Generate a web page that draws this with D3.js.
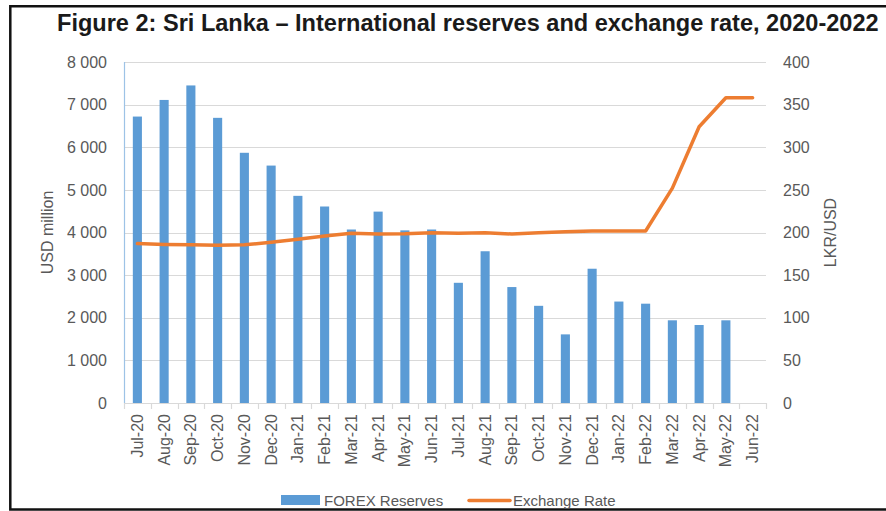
<!DOCTYPE html>
<html>
<head>
<meta charset="utf-8">
<script src="https://cdn.jsdelivr.net/npm/d3@7"></script>
<style>
  html, body { margin: 0; padding: 0; background: #ffffff; }
  svg { display: block; }
</style>
</head>
<body>
<svg id="chart" width="886" height="511"></svg>
<script>
// Monthly categories, Jul-2020 to Jun-2022
const months = ["Jul-20","Aug-20","Sep-20","Oct-20","Nov-20","Dec-20",
                "Jan-21","Feb-21","Mar-21","Apr-21","May-21","Jun-21",
                "Jul-21","Aug-21","Sep-21","Oct-21","Nov-21","Dec-21",
                "Jan-22","Feb-22","Mar-22","Apr-22","May-22","Jun-22"];

// Gross official reserves, USD million (no figure for Jun-22)
const forexReserves = [6720, 7110, 7450, 6690, 5870, 5570,
                       4860, 4610, 4070, 4490, 4050, 4070,
                       2820, 3560, 2720, 2280, 1610, 3150,
                       2380, 2330, 1940, 1830, 1940, null];

// Exchange rate, LKR per USD
const exchangeRate = [187, 186, 185.5, 185, 185.5, 188.5,
                      192, 196, 199, 198.2, 198.6, 199.8,
                      199, 199.8, 198.2, 199.8, 201, 201.8,
                      201.8, 201.8, 252, 324, 358, 358];

const leftTicks = [0, 1000, 2000, 3000, 4000, 5000, 6000, 7000, 8000];
const rightTicks = [0, 50, 100, 150, 200, 250, 300, 350, 400];

const titleText = "Figure 2: Sri Lanka \u2013 International reserves and exchange rate, 2020-2022";
const leftAxisTitle = "USD million";
const rightAxisTitle = "LKR/USD";
const legendLabels = ["FOREX Reserves", "Exchange Rate"];

const svg = d3.select("#chart");
const plot = { left: 124, right: 766, top: 62, bottom: 403 };
const barColor = "#5B9BD5";
const lineColor = "#ED7D31";
const gridColor = "#D9D9D9";
const textColor = "#595959";
const font = "'Liberation Sans', Arial, sans-serif";

const spaced = d3.formatLocale({ decimal: ".", thousands: " ", grouping: [3], currency: ["", ""] }).format(",");

const x = d3.scaleBand().domain(months)
  .range([plot.left, plot.right])
  .paddingInner(0.66).paddingOuter(0.33);
const yLeft = d3.scaleLinear().domain([0, 8000]).range([plot.bottom, plot.top]);
const yRight = d3.scaleLinear().domain([0, 400]).range([plot.bottom, plot.top]);

// Frame around the figure
svg.append("path")
  .attr("d", "M886,6.2H10.3V509.5H886")
  .attr("fill", "none").attr("stroke", "#111").attr("stroke-width", 2.5);

// Title, condensed horizontally to fit the frame width
const title = svg.append("text")
  .attr("font-family", "'Liberation Sans Narrow', 'Liberation Sans', Arial, sans-serif")
  .attr("font-weight", "bold").attr("font-size", 24)
  .attr("fill", "#1a1a1a")
  .text(titleText);
const titleWidth = 822;
const natural = title.node().getComputedTextLength();
title.attr("transform", `translate(57,30.5) scale(${titleWidth / natural},1)`);

// Horizontal gridlines
svg.append("g").selectAll("line")
  .data(leftTicks.filter(d => d > 0))
  .join("line")
  .attr("x1", plot.left).attr("x2", plot.right)
  .attr("y1", d => Math.round(yLeft(d)) + 0.5).attr("y2", d => Math.round(yLeft(d)) + 0.5)
  .attr("stroke", gridColor).attr("stroke-width", 1.2);

// Left axis (tick labels only, line drawn separately)
const leftAxis = svg.append("g")
  .attr("transform", `translate(${plot.left - 17},0)`)
  .call(d3.axisLeft(yLeft).tickValues(leftTicks).tickFormat(spaced).tickSize(0).tickPadding(0));
leftAxis.select(".domain").remove();
leftAxis.selectAll("text")
  .attr("font-family", font).attr("font-size", 16).attr("fill", textColor);

// Right axis
const rightAxis = svg.append("g")
  .attr("transform", `translate(${plot.right + 17},0)`)
  .call(d3.axisRight(yRight).tickValues(rightTicks).tickSize(0).tickPadding(0));
rightAxis.select(".domain").remove();
rightAxis.selectAll("text")
  .attr("font-family", font).attr("font-size", 16).attr("fill", textColor);

// Bars
svg.append("g").selectAll("rect")
  .data(months.map((m, i) => ({ m, v: forexReserves[i] })).filter(d => d.v != null))
  .join("rect")
  .attr("x", d => x(d.m))
  .attr("width", x.bandwidth())
  .attr("y", d => yLeft(d.v))
  .attr("height", d => plot.bottom - yLeft(d.v))
  .attr("fill", barColor);

// Category axis: baseline and boundary ticks
const step = x.step();
const boundaries = d3.range(months.length + 1).map(i => plot.left + i * step);
svg.append("line")
  .attr("x1", plot.left).attr("x2", plot.right)
  .attr("y1", plot.bottom + 0.5).attr("y2", plot.bottom + 0.5)
  .attr("stroke", gridColor).attr("stroke-width", 1.2);
svg.append("g").selectAll("line")
  .data(boundaries)
  .join("line")
  .attr("x1", d => Math.round(d) + 0.5).attr("x2", d => Math.round(d) + 0.5)
  .attr("y1", plot.bottom).attr("y2", plot.bottom + 6)
  .attr("stroke", gridColor).attr("stroke-width", 1.2);

// Value axis line on the left
svg.append("line")
  .attr("x1", plot.left + 0.5).attr("x2", plot.left + 0.5)
  .attr("y1", plot.top).attr("y2", plot.bottom)
  .attr("stroke", "#9DC3E6").attr("stroke-width", 1.2);

// Month labels, rotated
svg.append("g").selectAll("text")
  .data(months)
  .join("text")
  .attr("transform", d => `translate(${x(d) + x.bandwidth() / 2},414) rotate(-90)`)
  .attr("text-anchor", "end")
  .attr("dy", "0.35em")
  .attr("font-family", font).attr("font-size", 16).attr("fill", textColor)
  .text(d => d);

// Exchange rate line
const line = d3.line()
  .x((d, i) => x(months[i]) + x.bandwidth() / 2)
  .y(d => yRight(d));
svg.append("path")
  .datum(exchangeRate)
  .attr("d", line)
  .attr("fill", "none")
  .attr("stroke", lineColor).attr("stroke-width", 3.5)
  .attr("stroke-linejoin", "round").attr("stroke-linecap", "round");

// Axis titles
svg.append("text")
  .attr("transform", `translate(47,${(plot.top + plot.bottom) / 2}) rotate(-90)`)
  .attr("text-anchor", "middle").attr("dy", "0.35em")
  .attr("font-family", font).attr("font-size", 16).attr("fill", textColor)
  .text(leftAxisTitle);
svg.append("text")
  .attr("transform", `translate(830,${(plot.top + plot.bottom) / 2}) rotate(-90)`)
  .attr("text-anchor", "middle").attr("dy", "0.35em")
  .attr("font-family", font).attr("font-size", 16).attr("fill", textColor)
  .text(rightAxisTitle);

// Legend
const legend = svg.append("g");
legend.append("rect")
  .attr("x", 281).attr("y", 495).attr("width", 39).attr("height", 10)
  .attr("fill", barColor);
legend.append("text")
  .attr("x", 324).attr("y", 506)
  .attr("font-family", font).attr("font-size", 15).attr("fill", textColor)
  .text(legendLabels[0]);
legend.append("line")
  .attr("x1", 469).attr("x2", 510).attr("y1", 500.5).attr("y2", 500.5)
  .attr("stroke", lineColor).attr("stroke-width", 3.5).attr("stroke-linecap", "round");
legend.append("text")
  .attr("x", 513).attr("y", 506)
  .attr("font-family", font).attr("font-size", 15).attr("fill", textColor)
  .text(legendLabels[1]);
</script>
</body>
</html>
